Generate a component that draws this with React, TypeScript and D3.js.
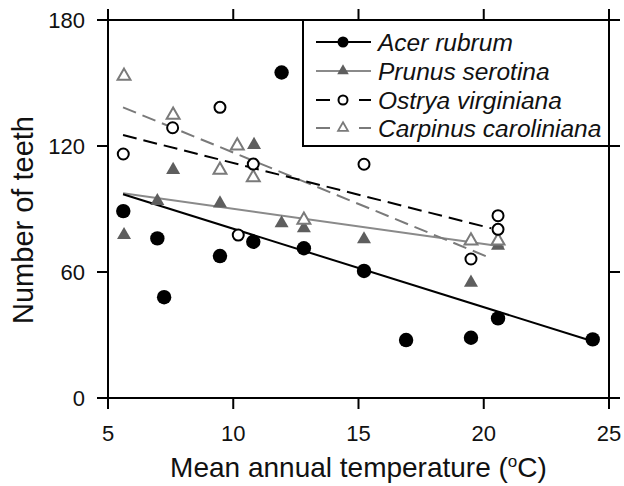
import React from "react";
import * as d3 from "d3";

const xTicks = [5, 10, 15, 20, 25];
const yTicks = [0, 60, 120, 180];

const acerData: [number, number][] = [
  [5.61, 89], [6.97, 76], [7.24, 48], [9.47, 67.6], [10.8, 74.4], [11.93, 155],
  [12.82, 71.3], [15.22, 60.5], [16.9, 27.6], [19.49, 28.7], [20.57, 37.9], [24.35, 27.9],
];
const prunusData: [number, number][] = [
  [5.64, 77.6], [6.97, 93.8], [7.6, 108.6], [9.47, 92.7], [10.83, 120.5], [11.93, 83.2],
  [12.82, 80.8], [15.22, 75.6], [19.49, 54.9], [20.57, 72.5],
];
const ostryaData: [number, number][] = [
  [5.61, 116.2], [7.58, 128.7], [9.47, 138.4], [10.2, 77.6], [10.8, 111.4],
  [15.22, 111.3], [19.49, 66.2], [20.57, 86.8], [20.57, 80.3],
];
const carpinusData: [number, number][] = [
  [5.64, 153.3], [7.6, 134.8], [9.47, 108.6], [10.16, 120.1], [10.8, 105],
  [12.82, 84.8], [19.49, 74.9], [20.57, 74.9],
];

const acerFit: [number, number][] = [[5.6, 97], [24.35, 27]];
const prunusFit: [number, number][] = [[5.6, 97.5], [20.8, 72]];
const ostryaFit: [number, number][] = [[5.6, 125.2], [20.3, 80.8]];
const carpinusFit: [number, number][] = [[5.6, 138.4], [20.3, 66.5]];

const legendLabels = ["Acer rubrum", "Prunus serotina", "Ostrya virginiana", "Carpinus caroliniana"];

const W = 624;
const H = 486;
const left = 108, right = 609, top = 20, bottom = 398;
const FONT = "'Liberation Sans', Arial, Helvetica, sans-serif";

export default function App() {
  const x = d3.scaleLinear().domain([5, 25]).range([left, right]);
  const y = d3.scaleLinear().domain([0, 180]).range([bottom, top]);
  const line = d3.line<[number, number]>().x((d) => x(d[0])).y((d) => y(d[1]));
  const triBig = d3.symbol().type(d3.symbolTriangle).size(85)() as string;
  const triOpen = d3.symbol().type(d3.symbolTriangle).size(72)() as string;
  const triLegF = d3.symbol().type(d3.symbolTriangle).size(58)() as string;
  const triLegO = d3.symbol().type(d3.symbolTriangle).size(42)() as string;

  const tk = 11;
  const legX0 = 316, legX1 = 371, legMid = 343;
  const legRows = [42, 71, 100, 128];
  const dark = "#000";
  const grayFill = "#5e5e5e";
  const grayLine = "#8a8a8a";
  const grayDash = "#7a7a7a";

  return (
    <div style={{ position: "absolute", left: 0, top: 0 }}>
      <svg width={W} height={H} style={{ display: "block", background: "#fff" }} fontFamily={FONT}>
        {/* fit lines */}
        <path d={line(prunusFit) as string} fill="none" stroke={grayLine} strokeWidth={2} />
        <path d={line(carpinusFit) as string} fill="none" stroke={grayDash} strokeWidth={2} strokeDasharray="14 7" />
        <path d={line(ostryaFit) as string} fill="none" stroke={dark} strokeWidth={2} strokeDasharray="14 7" />
        <path d={line(acerFit) as string} fill="none" stroke={dark} strokeWidth={2} />

        {/* points */}
        {prunusData.map((d, i) => (
          <path key={"p" + i} d={triBig} transform={`translate(${x(d[0])},${y(d[1])})`} fill={grayFill} />
        ))}
        {carpinusData.map((d, i) => (
          <path key={"c" + i} d={triOpen} transform={`translate(${x(d[0])},${y(d[1])})`} fill="#fff" stroke={grayDash} strokeWidth={2} />
        ))}
        {ostryaData.map((d, i) => (
          <circle key={"o" + i} cx={x(d[0])} cy={y(d[1])} r={5.5} fill="#fff" stroke={dark} strokeWidth={2} />
        ))}
        {acerData.map((d, i) => (
          <circle key={"a" + i} cx={x(d[0])} cy={y(d[1])} r={7.2} fill={dark} />
        ))}

        {/* legend */}
        <rect x={303} y={top} width={right - 303} height={146 - top} fill="#fff" stroke={dark} strokeWidth={2} />
        <line x1={legX0} x2={legX1} y1={legRows[0]} y2={legRows[0]} stroke={dark} strokeWidth={2} />
        <circle cx={legMid} cy={legRows[0]} r={5.5} fill={dark} />
        <line x1={legX0} x2={legX1} y1={legRows[1]} y2={legRows[1]} stroke={grayLine} strokeWidth={2} />
        <path d={triLegF} transform={`translate(${legMid},${legRows[1]})`} fill={grayFill} />
        <line x1={legX0} x2={legX0 + 14} y1={legRows[2]} y2={legRows[2]} stroke={dark} strokeWidth={2} />
        <line x1={legX1 - 12} x2={legX1} y1={legRows[2]} y2={legRows[2]} stroke={dark} strokeWidth={2} />
        <circle cx={legMid} cy={legRows[2]} r={4.5} fill="#fff" stroke={dark} strokeWidth={2} />
        <line x1={legX0} x2={legX0 + 14} y1={legRows[3]} y2={legRows[3]} stroke={grayDash} strokeWidth={2} />
        <line x1={legX1 - 12} x2={legX1} y1={legRows[3]} y2={legRows[3]} stroke={grayDash} strokeWidth={2} />
        <path d={triLegO} transform={`translate(${legMid},${legRows[3]})`} fill="#fff" stroke={grayDash} strokeWidth={1.8} />
        {legendLabels.map((l, i) => (
          <text key={l} x={378} y={legRows[i] + 8.5} fontSize={24.5} fontStyle="italic" fill="#111">
            {l}
          </text>
        ))}

        {/* frame */}
        <rect x={left} y={top} width={right - left} height={bottom - top} fill="none" stroke={dark} strokeWidth={2} />
        {xTicks.map((t) => (
          <g key={"xt" + t}>
            <line x1={x(t)} x2={x(t)} y1={bottom} y2={bottom + tk} stroke={dark} strokeWidth={2} />
            <line x1={x(t)} x2={x(t)} y1={top} y2={top - tk} stroke={dark} strokeWidth={2} />
            <text x={x(t)} y={441} textAnchor="middle" fontSize={22} fill="#111">
              {t}
            </text>
          </g>
        ))}
        {yTicks.map((t) => (
          <g key={"yt" + t}>
            <line x1={left} x2={left - tk} y1={y(t)} y2={y(t)} stroke={dark} strokeWidth={2} />
            <line x1={right} x2={right + tk} y1={y(t)} y2={y(t)} stroke={dark} strokeWidth={2} />
            <text x={85} y={y(t)} dy="0.36em" textAnchor="end" fontSize={22} fill="#111">
              {t}
            </text>
          </g>
        ))}

        {/* axis titles */}
        <text x={(left + right) / 2} y={477} textAnchor="middle" fontSize={28} fill="#111">
          Mean annual temperature (
          <tspan fontSize={17} dy={-10}>o</tspan>
          <tspan dy={10}>C)</tspan>
        </text>
        <text transform={`translate(33,220) rotate(-90)`} textAnchor="middle" fontSize={29} fill="#111">
          Number of teeth
        </text>
      </svg>
    </div>
  );
}
